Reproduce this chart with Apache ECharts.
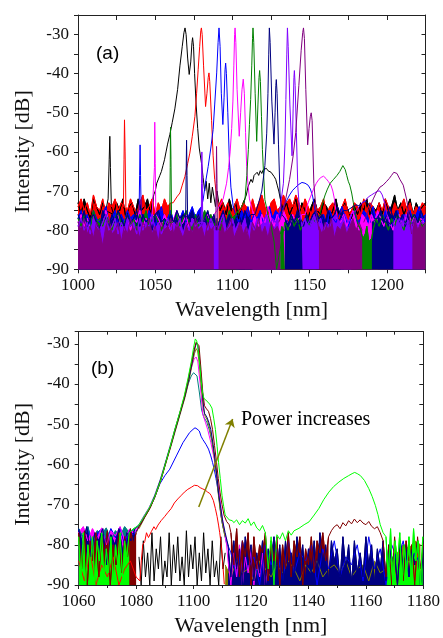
<!DOCTYPE html>
<html><head><meta charset="utf-8">
<script src="https://cdn.jsdelivr.net/npm/echarts@6/dist/echarts.min.js"></script>
<style>html,body{margin:0;padding:0;background:#fff}#c{width:443px;height:638px}</style>
</head><body><div id="c"></div>
<script>
// ---------- Panel (a) data: wavelength [nm], intensity [dB] ----------
const aXTicks = [1000, 1050, 1100, 1150, 1200];
const aYTicks = [-90, -80, -70, -60, -50, -40, -30];

const aBlackN1 = [-73,-76,-72,-75,-77,-72,-74,-76,-73,-75];
const aBlackSpike = [[1019.5,-72],[1020.2,-62],[1020.6,-56],[1021,-64],[1021.6,-74]];
const aBlackN2 = [-76,-73,-75,-72,-77,-74,-73,-76,-72,-75,-74,-72,-76,-71];
const aBlackPeak = [[1050,-70],[1051,-68],[1052,-67.5],[1053,-66],[1054,-65],[1055,-63.5],[1056,-62],[1057,-60],[1058,-58],[1059.5,-55.5],[1061,-52.5],[1062.7,-49],[1064.5,-44],[1066,-38],[1067.5,-33],[1068.6,-29.5],[1069.3,-28.3],[1070,-30],[1071,-36],[1072,-40.2],[1073,-37],[1073.8,-32],[1074.2,-30.8],[1074.8,-33],[1075.5,-40],[1076.5,-48],[1077.5,-54],[1078.5,-59],[1080,-63],[1081,-66.5]];
const aBlackN3 = [-70,-67.5,-72,-68,-73,-69,-71.5,-74,-70];
const aBlackN4 = [-75,-73,-76,-72,-75,-73,-77,-74,-72];
const aBlackBump = [[1109,-71],[1110,-69],[1111,-68.5],[1112,-67],[1113,-67.8],[1114,-66],[1115,-66.5],[1116,-65.2],[1117,-66],[1118,-64.8],[1119,-65.5],[1120,-64.5],[1121,-65],[1122,-64.2],[1123,-64.8],[1124,-64.3],[1125,-65.2],[1126,-65],[1127,-66.3],[1128,-67],[1129,-68.5],[1130,-70],[1131,-72]];
const aBlackN5 = [-75,-73,-76,-74,-72,-76,-73,-75,-77,-74,-72,-75,-76,-73,-74,-77,-75,-72,-76,-74,-73,-75,-77,-74,-76,-73,-75,-72,-76,-74,-75,-73,-76,-72,-75,-74,-71,-75,-73,-76,-74,-72,-76,-73,-75,-74,-73];

const aRedN1 = [-74,-72,-75,-73,-76,-71,-74,-75,-72,-76,-73,-74,-72,-75,-73];
const aRedSpike = [[1029.4,-74],[1029.8,-62],[1030.1,-51.8],[1030.5,-60],[1031,-74]];
const aRedN2 = [-75,-72,-74,-76,-73,-71,-75,-74,-72,-76,-73,-75,-72,-74,-73];
const aRedPeak = [[1061.6,-73],[1064,-71.5],[1066,-70.5],[1067.5,-68.5],[1069.2,-66.3],[1071,-63],[1072.4,-60.3],[1074,-56],[1075.7,-50.9],[1076.8,-45],[1077.8,-39],[1078.8,-33],[1079.5,-29],[1079.9,-28.3],[1080.4,-30],[1081.3,-38],[1082.6,-48.4],[1083.5,-45],[1084.3,-41],[1084.8,-39.8],[1085.3,-42],[1086.5,-52],[1087.5,-61],[1088.5,-67],[1089.7,-71.4]];
const aRedN3 = [-74,-72,-75,-73,-76,-74,-72,-75,-73,-74,-76,-72,-75,-73,-71,-74,-76,-73,-72,-75,-74,-71,-73,-72,-74,-71,-73,-75,-72,-74,-76,-73,-75,-74,-72,-76,-74,-73,-75,-77,-74,-72,-76,-75,-73,-74,-76,-72,-75,-73,-74,-76,-73,-75,-72,-74,-76,-73,-75,-74,-72,-75,-73,-76,-74,-75,-73,-74];

const aBlueN1 = [-77,-75,-78,-76,-79,-75,-77,-78,-76,-74,-78,-77,-75,-79,-76,-78,-75,-77,-76,-78];
const aBlueSpike = [[1039.5,-77],[1039.9,-66],[1040.2,-58.2],[1040.5,-66],[1041,-77]];
const aBlueN2 = [-76,-78,-75,-77,-79,-76,-74,-78,-77,-75,-78,-76,-77,-75,-78,-76,-74,-77,-75,-74];
const aBluePeak = [[1081,-72.3],[1082.5,-68],[1084.3,-63.7],[1086,-59],[1087.5,-54.3],[1088.5,-48],[1089.8,-39.8],[1090.7,-32],[1091.3,-28.3],[1092,-33],[1092.8,-45],[1093.8,-53],[1094.6,-46],[1095.2,-39],[1095.6,-37.3],[1096.1,-40],[1097,-50],[1098,-62],[1099,-69],[1100.5,-74]];
const aBlueN3 = [-76,-78,-75,-77,-74,-78,-76,-77,-75,-78,-76,-74,-77,-75,-76,-75];
const aBlueBump = [[1133,-74],[1135,-72.5],[1137,-71],[1139,-69.8],[1141,-69],[1143,-68.3],[1145,-67.8],[1146,-67.6],[1147,-68],[1149,-68.5],[1150.5,-69.5],[1152,-71.5],[1153.5,-75],[1155,-77]];
const aBlueN4 = [-78,-76,-79,-75,-77,-78,-76,-74,-77,-79,-76,-75,-78,-77,-75,-76,-78,-74,-77,-76,-78,-75,-77,-79,-76,-75,-78,-76,-77,-75,-78,-76,-74,-77,-76];

const aMagN1 = [-78,-76,-79,-77,-80,-76,-78,-77,-79,-75,-78,-80,-77,-76,-79,-78,-76,-80,-77,-78,-75,-79,-77,-78,-76];
const aMagSpike = [[1049.2,-76],[1049.5,-64],[1049.7,-52.4],[1050,-63],[1050.4,-76]];
const aMagN2 = [-77,-79,-76,-78,-80,-77,-75,-79,-78,-76,-80,-77,-78,-76,-79,-77,-76,-78,-76];
const aMagPeak = [[1090,-75],[1092,-73.5],[1094,-72],[1096.2,-68],[1097.5,-64],[1098.5,-60],[1099.5,-54],[1100.3,-47],[1100.9,-38],[1101.4,-30],[1101.7,-28.3],[1102.2,-32],[1103,-44],[1104.4,-56],[1105.3,-50],[1106.2,-44],[1107,-41.4],[1107.7,-45],[1108.5,-55],[1109.2,-63.7],[1110,-68],[1111,-72]];
const aMagN3 = [-75,-77,-79,-76,-78,-74,-77,-79,-76,-78,-75,-77,-79,-76,-78,-77,-76];
const aMagBump = [[1147,-76],[1149,-73],[1151,-71],[1152.5,-69.5],[1154.3,-68],[1156,-67],[1157.4,-66.5],[1159,-66.2],[1160.6,-66.8],[1162,-67.5],[1163.8,-68.5],[1165,-70],[1166,-72],[1167.7,-77]];
const aMagN4 = [-78,-76,-79,-77,-75,-78,-80,-76,-77,-79,-76,-78,-75,-77,-79,-76,-78,-80,-77,-76,-79,-77,-75,-78,-76,-79,-77,-78];

const aGreenN1 = [-77,-79,-76,-78,-80,-75,-78,-77,-79,-76,-78,-80,-77,-75,-79,-78,-76,-79,-77,-80,-76,-78,-75,-79,-77,-76,-78,-80,-77,-78];
const aGreenSpike = [[1059.4,-77],[1059.7,-64],[1059.9,-53.7],[1060.2,-62],[1060.6,-77]];
const aGreenN2 = [-78,-76,-79,-77,-75,-78,-80,-76,-79,-77,-75,-78,-76,-79,-77,-80,-76,-78,-75,-77,-76,-75];
const aGreenPeak = [[1106,-74],[1108.1,-72.2],[1109.3,-66],[1110.3,-59.4],[1111,-53],[1111.8,-46.6],[1112.5,-38],[1113,-31],[1113.3,-28.3],[1113.8,-32],[1114.7,-45],[1115.7,-57.3],[1116.5,-48],[1117.2,-41],[1117.6,-39.2],[1118.1,-42],[1118.8,-51],[1119.4,-59.4],[1120.2,-66],[1121,-72.2],[1123,-76],[1125,-79],[1127,-83],[1128.6,-90]];
const aGreenN3 = [-78,-80,-76,-79,-77,-80,-78,-76,-79,-77,-78];
const aGreenBump = [[1156.7,-76],[1158,-73.5],[1160,-71],[1161.5,-69.5],[1163.3,-68],[1165.5,-67],[1167.7,-66],[1169.5,-65],[1171.5,-63.5],[1172.3,-63.2],[1173,-64.5],[1174,-66],[1175,-67.5],[1176,-68.5],[1177.2,-70.5],[1178.3,-73],[1179.4,-76]];
const aGreenN4 = [-78,-80,-83,-79,-85,-80,-77,-79,-76,-78,-80,-77,-79,-76,-78,-80,-77,-79,-76,-78,-77,-79,-78];

const aNavyN1 = [-76,-78,-75,-79,-77,-76,-78,-80,-75,-77,-79,-76,-78,-75,-77,-79,-76,-78,-77,-75,-79,-76,-78,-77,-80,-76,-75,-78,-77,-79,-76,-78,-75,-77,-76];
const aNavySpike = [[1069.7,-77],[1070,-66],[1070.3,-57],[1070.6,-66],[1071,-77]];
const aNavyN2 = [-77,-75,-78,-76,-79,-77,-75,-78,-76,-80,-77,-75,-78,-76,-79,-77,-76,-78,-75,-77,-76];
const aNavyPeak = [[1114.6,-76],[1117,-73],[1119,-70],[1121,-63.5],[1122.2,-55.2],[1123,-45],[1123.5,-35],[1123.9,-28.3],[1124.4,-32],[1125.5,-47],[1126.9,-58],[1127.6,-50],[1128.1,-43],[1128.4,-41.5],[1128.9,-45],[1129.8,-58],[1130.8,-70.5],[1132,-76]];
const aNavyN3 = [-77,-79,-76,-78,-75,-77,-79,-76,-78,-76,-75,-77,-76,-78,-75,-77,-76,-74,-76,-75];
const aNavyBump = [[1174,-75],[1176,-74.5],[1178,-74],[1180,-73.5],[1182,-73.8],[1184,-73],[1186,-72.5],[1188,-73.2],[1190,-74.5],[1192,-77]];
const aNavyN4 = [-77,-75,-78,-76,-74,-77,-75,-78,-76,-79,-75,-77,-76,-78,-75,-77];

const aVioN1 = [-79,-77,-80,-78,-81,-77,-79,-80,-78,-76,-80,-79,-77,-81,-78,-80,-77,-79,-78,-81,-77,-80,-78,-79,-76,-80,-78,-81,-79,-77,-80,-78,-79,-77,-81,-78,-80,-77,-79,-78];
const aVioSpike = [[1079.8,-79],[1080,-68],[1080.2,-60],[1080.5,-68],[1080.8,-79]];
const aVioN2 = [-78,-80,-77,-79,-81,-78,-76,-80,-79,-77,-80,-78,-79,-77,-81,-78,-80,-77,-79,-78,-76,-79,-77,-78,-76];
const aVioPeak = [[1131,-74],[1133,-68],[1134,-58],[1134.6,-46.6],[1135.2,-35],[1135.6,-28.3],[1136.1,-33],[1137.2,-48],[1138.6,-61],[1139.3,-49],[1139.8,-41],[1140.1,-39.2],[1140.6,-43],[1141.4,-55],[1142.3,-68.8],[1143.5,-75]];
const aVioN3 = [-79,-77,-80,-78,-76,-79,-77,-80,-78,-79,-77,-76,-78,-77,-76,-78,-76];
const aVioBump = [[1180,-75],[1182,-74],[1184,-73],[1186,-72.5],[1188,-71.5],[1190,-71],[1192,-70.5],[1194,-70],[1195.5,-70],[1197,-71],[1198.5,-73],[1200,-76],[1202,-79]];
const aVioN4 = [-78,-80,-77,-79,-76,-78,-80,-77,-79,-78,-77];

const aPurSpike = [[1089.2,-80],[1089.5,-68],[1089.7,-58.6],[1090,-68],[1090.3,-80]];
const aPurPeak = [[1130,-78],[1133,-75],[1135,-71],[1137,-67],[1139.3,-61],[1141,-55],[1143,-43],[1144.5,-34],[1145.5,-29.5],[1146,-28.3],[1146.6,-31],[1147.5,-44],[1148.7,-58.2],[1149.6,-54],[1150.4,-51],[1151,-50],[1151.6,-52],[1152.7,-68],[1154.4,-76],[1156,-80]];
const aPurBump = [[1185,-78],[1188,-75],[1191.2,-72],[1193,-70.5],[1195.5,-69],[1197.5,-68.5],[1199.9,-67.5],[1201.5,-66.8],[1203,-66],[1204.5,-65.2],[1205.6,-64.8],[1206.5,-65.5],[1207.5,-66],[1208.4,-67],[1209.5,-67.5],[1210.6,-68.5],[1211.5,-70],[1212.7,-72],[1214,-75],[1214.9,-78],[1216,-81]];

// noise floor (dense noise reaching -90), top edge per colour
const aPurFloor1 = [-78,-80,-77,-81,-79,-82,-78,-80,-84,-79,-77,-81,-80,-78,-83,-79,-81,-77,-80,-79,-82,-78,-80,-77,-81,-79,-83,-78,-80,-79,-77,-81,-78,-80,-82,-79,-78,-81,-77,-80,-79,-82,-78,-80,-79];
const aVioFloor1 = [[1088,-80],[1088.5,-79],[1090.5,-79],[1091,-80]];
const aPurFloor2 = [-80,-78,-81,-79,-77,-82,-80,-78,-81,-79,-83,-78,-80,-77,-81,-79,-82,-78,-80,-79,-81];
const aGreenFloor1 = [[1131,-81],[1132,-79],[1133,-80],[1134,-80]];
const aNavyFloor1 = [[1134,-78],[1135.5,-77.5],[1137,-78.5],[1138.5,-77],[1140,-78],[1141.5,-77.5],[1143,-78.5],[1144.5,-77.5],[1145.5,-78]];
const aVioFloor2 = [[1145.5,-78],[1147,-77.5],[1148.5,-78.5],[1150,-77.5],[1151.5,-78],[1153,-77],[1154.5,-78.5],[1156,-78]];
const aPurFloor3 = [-79,-81,-78,-80,-77,-82,-79,-80,-78,-81,-79,-77,-80,-78,-80];
const aGreenFloor2 = [[1184.5,-82],[1186,-81],[1188,-83],[1190.3,-82]];
const aNavyFloor2 = [[1190.3,-78],[1192,-77.5],[1194,-78.5],[1196,-77],[1198,-78],[1200,-77.5],[1202,-78.5],[1204.3,-78]];
const aVioFloor3 = [[1204.3,-78],[1206,-77],[1208,-78],[1210,-77.5],[1212,-78.5],[1214,-77.5],[1216.5,-78]];
const aPurFloor4 = [[1216.5,-79],[1218,-77],[1220,-80],[1222,-78],[1224,-79],[1225,-78]];

// ---------- Panel (b) data ----------
const bXTicks = [1060, 1080, 1100, 1120, 1140, 1160, 1180];
const bYTicks = [-90, -80, -70, -60, -50, -40, -30];

const bBlackN = [-83,-90,-79,-88,-82,-90,-77,-89,-81,-86,-78,-90,-84,-88,-77,-90,-80,-87,-78,-89,-83,-90,-76.5,-88,-80,-86,-78,-90,-82,-89,-77,-87,-81,-90,-79,-88,-84,-90,-78,-86,-82];

const bRedN1 = [-84,-89,-82,-90,-85,-88,-83,-90,-86,-84,-88];
const bRedPeak = [[1081.3,-89],[1081.8,-84],[1082.3,-80],[1083,-79.2],[1083.6,-77],[1084.3,-78.2],[1085.3,-76.7],[1086.2,-75.5],[1086.8,-76.2],[1087.6,-75.1],[1088.7,-74],[1089.9,-73],[1091,-72],[1092.2,-71],[1093.3,-69.6],[1094.5,-68.6],[1095.6,-67.8],[1096.8,-66.9],[1098,-66.2],[1099.2,-65.7],[1100.3,-65.2],[1101.4,-65.3],[1102.3,-65.8],[1103.2,-66.1],[1104.1,-66.4],[1104.9,-66.9],[1105.6,-67.2],[1106.1,-67.7],[1106.9,-69],[1107.6,-71],[1108.2,-73],[1108.7,-75.1],[1109.1,-77],[1109.5,-79.2],[1110.1,-84],[1110.7,-89.8]];
const bRedN2 = [[1170,-84],[1171,-90],[1172,-81],[1173,-88],[1174,-79],[1175,-87],[1176,-80],[1177,-89],[1178,-82],[1179,-88],[1180,-80]];

const bBlueN1 = [-76.5,-78,-75.8,-80.5,-77,-76.2,-79.5,-76,-78.2,-75.6,-80,-76.5,-77.5];
const bBluePeak = [[1081,-75.5],[1082.4,-73.7],[1084.5,-71.2],[1086.4,-68.3],[1088.3,-64.8],[1090,-62.8],[1091.7,-61.2],[1094,-57.9],[1096.3,-54.6],[1098.6,-52.1],[1099.8,-51.3],[1100.5,-50.9],[1101.2,-51.2],[1102,-51.7],[1102.6,-53],[1103.2,-53.8],[1104.3,-55],[1105.2,-56.2],[1106,-57.9],[1106.6,-59.5],[1107.2,-61.2],[1107.8,-63.5],[1108.4,-66],[1109,-69],[1109.5,-72.6],[1110.1,-75],[1110.7,-76.7],[1111.3,-78.5],[1111.9,-80]];
const bBlueN2 = [-82,-88,-79,-86,-83,-90,-80,-85,-81,-89,-79,-87,-82,-84,-80,-90,-81,-86,-79,-88,-83,-85,-80,-89,-78,-86,-81,-90,-80,-84,-79,-88,-82,-85];

const bTealN1 = [-76,-78.5,-75.5,-80,-76.5,-77.5,-75.8,-79,-76.5,-78,-75.5,-77,-76];
const bTealPeak = [[1081,-75],[1082.4,-73.2],[1084.5,-70.8],[1086.4,-67.8],[1088.3,-64],[1090.2,-59.5],[1091.8,-55.5],[1093.4,-51.5],[1095.1,-47.4],[1096.8,-43.5],[1098.1,-40],[1099.2,-38],[1100,-37.2],[1100.6,-37],[1101.2,-38],[1102,-42],[1102.8,-46.5],[1103.6,-48.3],[1104.6,-49.5],[1105.5,-51.5],[1106.3,-54],[1107.1,-57.5],[1107.8,-61.5],[1108.5,-66],[1109.2,-70.5],[1110,-74.5],[1110.8,-77.5],[1111.6,-80]];

const bMagN1 = [-77,-75.5,-79,-76,-78.5,-75.8,-80,-76.5,-77.8,-75.5,-79,-76.2,-77];
const bMagPeak = [[1081,-75.2],[1082.4,-73.4],[1084.5,-70.9],[1086.4,-68],[1088.3,-64.2],[1090.2,-59.7],[1091.8,-55.7],[1093.4,-51.6],[1095.1,-47.5],[1096.8,-43.3],[1098.1,-39.2],[1099.2,-36],[1100.2,-33.8],[1100.9,-33.3],[1101.5,-34.5],[1102.3,-40],[1103.2,-47.5],[1104.1,-49.5],[1104.9,-51.3],[1106,-54.5],[1107.2,-58.7],[1108,-62.5],[1108.7,-66],[1109.4,-70],[1110,-73.4],[1110.8,-77],[1111.5,-80]];
const bMagN2 = [-84,-90,-82,-88,-80,-90,-83,-87,-81,-90,-84,-88,-82,-90,-85];

const bOliveFloor = [-85,-88,-84,-87,-86,-89,-84,-86,-88,-85,-87,-84,-86,-89,-85,-87,-84,-88,-86,-85,-87,-84,-88,-86,-85,-89,-84,-87,-86,-85,-82,-80,-81,-79,-80];
const bOlivePeak = [[1081,-76],[1083,-73.2],[1085,-70.7],[1087,-67.2],[1089,-63],[1090.5,-59.3],[1092,-55.8],[1093.6,-51.8],[1095.3,-47.6],[1097,-43.4],[1098.3,-39.5],[1099.4,-35.5],[1100.3,-32.5],[1100.9,-31.2],[1101.4,-31.8],[1102,-35],[1102.7,-41],[1103.4,-46],[1104,-48],[1104.8,-49],[1105.6,-51],[1106.4,-54],[1107.2,-58],[1108,-63],[1108.7,-68],[1109.4,-72],[1110.2,-75.5],[1111,-78]];

const bNavyN1 = [-76,-80,-75.5,-83,-77,-79,-76,-85,-77.5,-80,-76,-82,-77,-79,-76];
const bNavyPeak = [[1081.5,-75],[1083,-73],[1085,-70.5],[1087,-67],[1089,-62.8],[1090.5,-59],[1092,-55.5],[1093.6,-51.5],[1095.3,-47.3],[1097,-43],[1098.3,-39],[1099.4,-35],[1100.3,-31.5],[1101,-29.8],[1101.5,-30.5],[1102.1,-34],[1102.8,-40],[1103.4,-45],[1103.8,-47.3],[1104.6,-48.2],[1105.3,-49.5],[1106,-51.3],[1106.8,-55],[1107.6,-59.5],[1108.2,-63.5],[1108.8,-67.7],[1109.5,-71],[1110.2,-74.3],[1111,-77]];
const bNavyN2 = [-80,-88,-79,-86,-81,-90,-78,-85,-80,-89,-82,-87,-79,-90,-81,-84,-78,-88,-80,-90,-79,-86,-82,-89,-78,-85,-80,-90,-81,-87,-79,-88,-77,-85,-80,-90,-79,-84,-81,-89,-78,-86,-80,-90,-79,-87,-82,-88,-78,-85,-80,-90,-81,-86,-79,-89,-80,-84,-82,-90,-79,-87,-80,-88,-81,-85,-79,-90,-80];

const bMarN1 = [-77,-86,-76.5,-90,-79,-84,-77,-88,-78,-82,-76.5,-90,-80,-85,-77,-87,-78,-83,-76,-80,-77];
const bMarPeak = [[1081,-75.5],[1082.4,-73.8],[1084.5,-71.3],[1086.4,-68.4],[1088.3,-64.6],[1090.2,-60],[1091.8,-56],[1093.4,-51.8],[1095.1,-47.6],[1096.8,-43.2],[1098.1,-39],[1099.2,-35],[1100.2,-31.5],[1100.9,-29.6],[1101.4,-29.2],[1101.9,-30.5],[1102.6,-36.5],[1103.2,-42],[1103.8,-45.4],[1104.5,-46.2],[1105.2,-46.8],[1105.9,-48.6],[1106.6,-51.3],[1107.3,-55.3],[1108,-59.5],[1108.6,-63.5],[1109.2,-66.9],[1109.9,-70],[1110.6,-72.6],[1111.5,-74.2],[1112.4,-75]];
const bMarN2 = [-77,-85,-76,-88,-79,-83,-77,-90,-78,-86,-80,-82,-77,-89,-79,-84,-78,-90,-80,-86,-77,-88,-79,-83,-78,-90,-81,-85,-78,-87,-79,-82,-77,-84,-78];
const bMarBump = [-76.5,-75.5,-75,-76,-74.5,-75.3,-74,-74.8,-73.6,-74.5,-73.8,-74.6,-75,-74.2,-75.4,-76,-75.5,-77];
const bMarN3 = [-79,-88,-80,-90,-78,-85,-81,-89,-79,-84,-80,-90,-78,-86,-80];

const bGreenN1 = [-78,-88,-77,-90,-80,-86,-78,-90,-79,-84,-77,-89,-81,-87,-78,-90,-80,-85,-77,-88,-79,-83,-77];
const bGreenPeak = [[1079,-76],[1080.5,-75.5],[1082.4,-73.5],[1084.5,-71],[1086.4,-68.2],[1088.3,-64.5],[1090.2,-59.8],[1091.8,-55.8],[1093.4,-51.5],[1095.1,-47.3],[1096.8,-42.8],[1098.1,-38.5],[1099.2,-34.5],[1100,-31],[1100.6,-28.8],[1101.1,-29.3],[1101.6,-31.5],[1102.2,-35.5],[1102.6,-39],[1103.1,-42],[1103.6,-43.6],[1104.3,-44],[1104.9,-44.3],[1105.6,-45],[1106.4,-46],[1107,-48.5],[1107.6,-51.3],[1108.2,-55.5],[1108.7,-59.5],[1109.3,-63.5],[1109.9,-67.7],[1110.5,-70.5],[1111,-72.6],[1112.4,-73.8],[1113.5,-74]];
const bGreenN2 = [-74.5,-73.8,-75,-74,-74.6,-73.5,-75.2,-74.3,-75.8,-76.5,-75.2,-77,-86,-78,-90,-77.5,-78.6,-77,-79,-76.5,-77.6];
const bGreenBump = [[1135,-76.5],[1136.7,-75.9],[1138.5,-75],[1140.2,-74.3],[1142,-72.6],[1143.6,-71],[1145.3,-68.8],[1147.1,-66.9],[1148.8,-65.5],[1150.6,-64.4],[1152.3,-63.5],[1154,-62.8],[1155.2,-62.3],[1156.1,-62],[1157,-62.3],[1158.1,-62.8],[1159.5,-64],[1161,-66],[1162.2,-68],[1163.3,-70.2],[1164.2,-72.5],[1165,-75],[1166,-77]];
const bGreenN3 = [-78,-88,-76,-90,-79,-85,-77,-90,-80,-87,-78,-89,-76,-84,-79,-90,-78];

const bArrow = [[1101.8,-70.6],[1113.6,-48.7]];

// ---------- helpers ----------
function seg(x0, step, vals) { return vals.map((v, i) => [Math.round((x0 + i * step) * 100) / 100, v]); }
const C = { black:'#000000', red:'#ff0000', blue:'#0000ff', mag:'#ff00ff', green:'#008000', navy:'#000080', vio:'#8000ff', pur:'#800080',
            teal:'#008080', olive:'#808000', maroon:'#800000', lime:'#00ff00' };
const serif = 'Liberation Serif';

function line(panel, color, data, w) {
  const i = panel === 'a' ? 0 : 2;
  return { type:'line', xAxisIndex:i, yAxisIndex:i, data, showSymbol:false, symbol:'none', silent:true,
           animation:false, lineStyle:{ color, width: w || 1 }, itemStyle:{ color }, connectNulls:false };
}
function floor(panel, color, data) {
  const s = line(panel, color, data, 1);
  s.areaStyle = { color, opacity:1, origin:'start' };
  return s;
}
// dense noise drawn as a filled band: parts joined with gaps (null) where the colour carries a signal
function noise(panel, color, parts) {
  const data = [];
  parts.forEach((p, k) => { if (k) data.push(null); data.push(...p); });
  return floor(panel, color, data);
}

const aSeries = [
  noise('a', C.black, [[...seg(1000,2,aBlackN1), ...seg(1023,2,aBlackN2)], seg(1092,2,aBlackN4), seg(1133,2,aBlackN5)]),
  line('a', C.black, [...seg(1000,2,aBlackN1), ...aBlackSpike, ...seg(1023,2,aBlackN2), ...aBlackPeak, ...seg(1082,1,aBlackN3), ...seg(1092,2,aBlackN4), ...aBlackBump, ...seg(1133,2,aBlackN5)]),
  noise('a', C.red, [[...seg(1000,2,aRedN1), ...seg(1032,2,aRedN2)], seg(1091,2,aRedN3)]),
  line('a', C.red, [...seg(1000,2,aRedN1), ...aRedSpike, ...seg(1032,2,aRedN2), ...aRedPeak, ...seg(1091,2,aRedN3)]),
  noise('a', C.blue, [[...seg(1000,2,aBlueN1), ...seg(1042,2,aBlueN2)], seg(1102,2,aBlueN3), seg(1157,2,aBlueN4)]),
  line('a', C.blue, [...seg(1000,2,aBlueN1), ...aBlueSpike, ...seg(1042,2,aBlueN2), ...aBluePeak, ...seg(1102,2,aBlueN3), ...aBlueBump, ...seg(1157,2,aBlueN4)]),
  noise('a', C.mag, [[...seg(1000,2,aMagN1), ...seg(1052,2,aMagN2)], seg(1113,2,aMagN3), seg(1170,2,aMagN4)]),
  line('a', C.mag, [...seg(1000,2,aMagN1), ...aMagSpike, ...seg(1052,2,aMagN2), ...aMagPeak, ...seg(1113,2,aMagN3), ...aMagBump, ...seg(1170,2,aMagN4)]),
  noise('a', C.green, [[...seg(1000,2,aGreenN1), ...seg(1062,2,aGreenN2)], seg(1134,2,aGreenN3), seg(1181,2,aGreenN4)]),
  line('a', C.green, [...seg(1000,2,aGreenN1), ...aGreenSpike, ...seg(1062,2,aGreenN2), ...aGreenPeak, ...seg(1134,2,aGreenN3), ...aGreenBump, ...seg(1181,2,aGreenN4)]),
  noise('a', C.navy, [[...seg(1000,2,aNavyN1), ...seg(1072,2,aNavyN2)], seg(1134,2,aNavyN3), seg(1194,2,aNavyN4)]),
  line('a', C.navy, [...seg(1000,2,aNavyN1), ...aNavySpike, ...seg(1072,2,aNavyN2), ...aNavyPeak, ...seg(1134,2,aNavyN3), ...aNavyBump, ...seg(1194,2,aNavyN4)]),
  noise('a', C.vio, [[...seg(1000,2,aVioN1), ...seg(1082,2,aVioN2)], seg(1145,2,aVioN3), seg(1204,2,aVioN4)]),
  line('a', C.vio, [...seg(1000,2,aVioN1), ...aVioSpike, ...seg(1082,2,aVioN2), ...aVioPeak, ...seg(1145,2,aVioN3), ...aVioBump, ...seg(1204,2,aVioN4)]),
  floor('a', C.pur, seg(1000,2,aPurFloor1)),
  floor('a', C.vio, aVioFloor1),
  floor('a', C.pur, seg(1091,2,aPurFloor2)),
  floor('a', C.green, aGreenFloor1),
  floor('a', C.navy, aNavyFloor1),
  floor('a', C.vio, aVioFloor2),
  floor('a', C.pur, seg(1156,2,aPurFloor3)),
  floor('a', C.green, aGreenFloor2),
  floor('a', C.navy, aNavyFloor2),
  floor('a', C.vio, aVioFloor3),
  floor('a', C.pur, aPurFloor4),
  line('a', C.pur, [...aPurSpike, null, ...aPurPeak, null, ...aPurBump])
];

const arrowSeries = line('b', C.olive, bOlivePeak);
arrowSeries.markLine = { silent:true, animation:false, symbol:['none','arrow'], symbolSize:8,
  label:{ show:false }, lineStyle:{ color:C.olive, width:1.5, type:'solid' },
  data:[[{ coord: bArrow[0] }, { coord: bArrow[1] }]] };

const bSeries = [
  noise('b', C.teal, [seg(1060,1.6,bTealN1)]),
  noise('b', C.blue, [seg(1060,1.6,bBlueN1)]),
  noise('b', C.mag, [seg(1060,1.6,bMagN1)]),
  noise('b', C.navy, [seg(1060,1.4,bNavyN1)]),
  noise('b', C.maroon, [seg(1060,1,bMarN1)]),
  noise('b', C.lime, [seg(1060,0.8,bGreenN1)]),
  line('b', C.black, seg(1081,0.75,bBlackN)),
  line('b', C.red, [...seg(1060,2,bRedN1), ...bRedPeak, null, ...bRedN2]),
  floor('b', C.olive, seg(1111,2,bOliveFloor)),
  noise('b', C.maroon, [seg(1113,1,bMarN2)]),
  noise('b', C.navy, [seg(1112,1,bNavyN2)]),
  line('b', C.blue, [...seg(1060,1.6,bBlueN1), ...bBluePeak, ...seg(1113,2,bBlueN2)]),
  line('b', C.teal, [...seg(1060,1.6,bTealN1), ...bTealPeak]),
  line('b', C.mag, [...seg(1060,1.6,bMagN1), ...bMagPeak, ...seg(1112,1,bMagN2)]),
  arrowSeries,
  line('b', C.navy, [...seg(1060,1.4,bNavyN1), ...bNavyPeak, ...seg(1112,1,bNavyN2)]),
  line('b', C.maroon, [...seg(1060,1,bMarN1), ...bMarPeak, ...seg(1113,1,bMarN2), ...seg(1148,1,bMarBump), ...seg(1166,1,bMarN3)]),
  noise('b', C.lime, [seg(1167,0.8,bGreenN3)]),
  line('b', C.lime, [...seg(1060,0.8,bGreenN1), ...bGreenPeak, ...seg(1114,1,bGreenN2), ...bGreenBump, ...seg(1167,0.8,bGreenN3)])
];

// ---------- axes ----------
const axisLine = { show:true, onZero:false, lineStyle:{ color:'#222', width:1 } };
const labelStyle = { fontFamily:serif, fontSize:17, color:'#111' };
const nameStyle = { fontFamily:serif, fontSize:22, color:'#111' };

function xAx(g, min, max, ticks, interval, minor) {
  return [
    { gridIndex:g, type:'value', min, max, interval, position:'bottom', axisLine,
      axisTick:{ show:true, inside:false, length:4, lineStyle:{ color:'#222' } },
      minorTick:{ show:!!minor, splitNumber:minor || 1, length:3, lineStyle:{ color:'#222' } },
      axisLabel:{ ...labelStyle, margin:8, formatter: v => ticks.includes(v) ? String(v) : '' },
      splitLine:{ show:false }, minorSplitLine:{ show:false },
      name:'Wavelength [nm]', nameLocation:'middle', nameGap:30, nameTextStyle:nameStyle },
    { gridIndex:g, type:'value', min, max, interval, position:'top', axisLine,
      axisTick:{ show:true, inside:true, length:5, lineStyle:{ color:'#222' } },
      minorTick:{ show:!!minor, splitNumber:minor || 1, length:3, lineStyle:{ color:'#222' } },
      axisLabel:{ show:false }, splitLine:{ show:false } }
  ];
}
function yAx(g, min, max, ticks, padDown) {
  return [
    { gridIndex:g, type:'value', min, max, interval:5, position:'left', axisLine,
      axisTick:{ show:true, inside:false, length:4, lineStyle:{ color:'#222' } },
      axisLabel:{ ...labelStyle, margin:9, formatter: v => ticks.includes(v) ? String(v) : '' },
      splitLine:{ show:false },
      name:'Intensity [dB]', nameLocation:'middle', nameGap:44, nameRotate:90,
      nameTextStyle:{ ...nameStyle, padding:[0, padDown, 0, 0] } },
    { gridIndex:g, type:'value', min, max, interval:5, position:'right', axisLine,
      axisTick:{ show:true, inside:true, length:4, lineStyle:{ color:'#222' } },
      axisLabel:{ show:false }, splitLine:{ show:false } }
  ];
}

const chart = echarts.init(document.getElementById('c'), null, { renderer:'canvas' });
chart.setOption({
  animation:false,
  backgroundColor:'#ffffff',
  grid:[
    { left:78, right:17.5, top:15, height:254.3 },
    { left:78.7, right:18, top:331.7, height:255.6 }
  ],
  xAxis:[ ...xAx(0, 1000, 1225, aXTicks, 25, 0), ...xAx(1, 1060, 1180, bXTicks, 20, 2) ],
  yAxis:[ ...yAx(0, -90, -25, aYTicks, 19), ...yAx(1, -90, -27, bYTicks, 12) ],
  graphic:[
    { type:'text', left:96, top:44, style:{ text:'(a)', font:'19px "Liberation Sans"', fill:'#000' } },
    { type:'text', left:91, top:359, style:{ text:'(b)', font:'19px "Liberation Sans"', fill:'#000' } },
    { type:'text', left:241, top:410, style:{ text:'Power increases', font:'20px "Liberation Serif"', fill:'#000' } }
  ],
  series:[ ...aSeries, ...bSeries ]
});
</script></body></html>
